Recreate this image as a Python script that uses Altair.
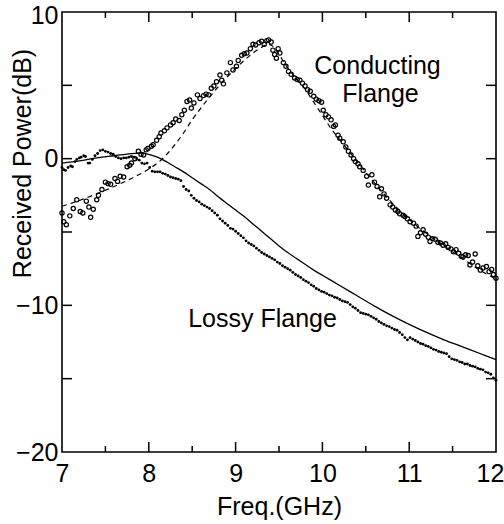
import altair as alt
import pandas as pd

FONT = "Liberation Sans"

# Conducting flange, measured (open circles)
CF = [7.00, 7.02, 7.05, 7.09, 7.13, 7.17, 7.21, 7.24, 7.28, 7.31, 7.33, 7.36, 7.40, 7.42, 7.46,
      7.50, 7.53, 7.56, 7.61, 7.64, 7.67, 7.71, 7.75, 7.78, 7.80, 7.84, 7.88, 7.91, 7.94, 7.97,
      7.99, 8.03, 8.05, 8.09, 8.12, 8.14, 8.18, 8.21, 8.25, 8.28, 8.31, 8.35, 8.38, 8.41, 8.44,
      8.47, 8.49, 8.52, 8.56, 8.59, 8.63, 8.66, 8.69, 8.72, 8.75, 8.78, 8.82, 8.84, 8.86, 8.90,
      8.94, 8.97, 9.01, 9.03, 9.07, 9.10, 9.13, 9.17, 9.20, 9.23, 9.27, 9.30, 9.33, 9.36, 9.38,
      9.41, 9.43, 9.45, 9.47, 9.49, 9.51, 9.55, 9.58, 9.61, 9.64, 9.68, 9.71, 9.74, 9.77, 9.80,
      9.83, 9.86, 9.90, 9.93, 9.96, 9.99, 10.01, 10.04, 10.07, 10.10, 10.13, 10.15, 10.18, 10.20,
      10.24, 10.27, 10.30, 10.33, 10.36, 10.38, 10.41, 10.43, 10.47, 10.51, 10.53, 10.57, 10.60,
      10.63, 10.66, 10.68, 10.71, 10.74, 10.78, 10.81, 10.84, 10.87, 10.89, 10.93, 10.95, 10.98,
      11.01, 11.05, 11.08, 11.10, 11.13, 11.16, 11.19, 11.22, 11.24, 11.27, 11.30, 11.33, 11.36,
      11.39, 11.42, 11.45, 11.48, 11.51, 11.54, 11.57, 11.60, 11.62, 11.65, 11.68, 11.70, 11.73,
      11.76, 11.79, 11.82, 11.85, 11.89, 11.92, 11.95, 11.97, 12.00]
CV = [-3.7, -4.3, -4.5, -3.9, -3.4, -2.8, -3.6, -3.7, -2.9, -3.3, -4.0, -3.45, -2.8, -2.5, -2.1,
      -1.6, -1.7, -1.75, -1.35, -1.55, -1.2, -1.25, -0.55, -0.45, -0.3, 0.0, 0.5, 0.3, 0.25, 0.6,
      0.7, 0.85, 0.95, 1.25, 1.5, 1.75, 1.9, 2.1, 2.3, 2.45, 2.7, 2.6, 3.0, 3.3, 3.9,
      4.0, 3.45, 3.8, 4.35, 4.1, 4.3, 4.4, 4.35, 4.8, 4.95, 5.25, 5.7, 5.35, 5.1, 5.85,
      6.55, 6.05, 6.3, 6.7, 7.05, 7.15, 7.2, 7.5, 7.8, 7.75, 7.9, 8.0, 7.8, 8.05, 8.1,
      7.95, 7.4, 7.1, 6.85, 7.5, 7.2, 6.55, 6.3, 5.95, 5.75, 5.5, 5.4, 5.35, 5.15, 4.95,
      4.7, 4.6, 4.25, 4.05, 3.95, 3.85, 3.3, 3.0, 2.85, 2.65, 2.2, 2.3, 1.6, 1.4,
      1.15, 0.8, 0.5, 0.25, 0.0, -0.2, -0.35, -0.55, -0.8, -1.2, -1.8, -1.1, -1.6,
      -1.9, -2.6, -2.05, -2.4, -2.7, -3.15, -3.3, -3.5, -3.6, -3.75, -3.85, -3.95, -4.1,
      -4.3, -4.4, -4.6, -5.3, -5.05, -4.85, -5.15, -5.35, -5.65, -5.45, -5.5, -5.7, -5.75,
      -5.9, -5.8, -6.05, -6.15, -6.35, -6.2, -6.45, -6.65, -6.7, -6.55, -6.6, -7.25, -7.05,
      -6.5, -7.3, -7.6, -7.45, -7.35, -7.7, -7.55, -7.9, -8.15]

# Conducting flange, computed (dashed line)
DF = [7.0, 7.2, 7.4, 7.6, 7.8, 7.9, 8.0, 8.1, 8.2, 8.3, 8.4, 8.5, 8.6, 8.7, 8.8, 8.9, 9.0, 9.1,
      9.2, 9.3, 9.38, 9.45, 9.5, 9.6, 9.7, 9.8, 9.9, 10.0, 10.1, 10.2, 10.3, 10.4, 10.5, 10.6,
      10.7, 10.8, 10.9, 11.0, 11.1, 11.2, 11.3, 11.4, 11.5, 11.6, 11.7, 11.8, 11.9, 12.0]
DV = [-3.25, -2.85, -2.4, -1.9, -1.35, -1.05, -0.7, -0.3, 0.25, 0.95, 1.75, 2.65, 3.45, 4.2, 4.9,
      5.55, 6.15, 6.7, 7.2, 7.6, 7.8, 7.55, 7.1, 6.2, 5.45, 4.75, 3.85, 2.95, 2.05, 1.3, 0.55,
      -0.2, -0.95, -1.65, -2.35, -3.0, -3.6, -4.15, -4.65, -5.1, -5.55, -5.95, -6.35, -6.75,
      -7.15, -7.55, -7.9, -8.2]

# Lossy flange, computed (solid line)
SF = [7.0, 7.2, 7.4, 7.6, 7.8, 7.9, 8.0, 8.1, 8.2, 8.3, 8.4, 8.5, 8.6, 8.7, 8.8, 8.9, 9.0, 9.1,
      9.2, 9.3, 9.4, 9.5, 9.6, 9.7, 9.8, 9.9, 10.0, 10.2, 10.4, 10.6, 10.8, 11.0, 11.2, 11.4,
      11.6, 11.8, 12.0]
SV = [-0.3, -0.15, 0.05, 0.2, 0.35, 0.38, 0.3, 0.1, -0.2, -0.55, -0.9, -1.3, -1.7, -2.1, -2.6,
      -3.05, -3.5, -3.95, -4.45, -4.95, -5.45, -5.95, -6.4, -6.8, -7.2, -7.6, -7.95, -8.65,
      -9.35, -10.05, -10.7, -11.3, -11.85, -12.35, -12.8, -13.25, -13.7]

# Lossy flange, measured (small dots)
LF = [7.00, 7.02, 7.04, 7.07, 7.10, 7.12, 7.15, 7.17, 7.20, 7.22, 7.25, 7.27, 7.30, 7.32, 7.35,
      7.38, 7.41, 7.44, 7.47, 7.50, 7.53, 7.56, 7.59, 7.62, 7.65, 7.68, 7.71, 7.74, 7.77, 7.80,
      7.83, 7.86, 7.89, 7.92, 7.95, 7.98, 8.01, 8.04, 8.07, 8.10, 8.13, 8.16, 8.19, 8.22, 8.25,
      8.28, 8.31, 8.34, 8.37, 8.40, 8.43, 8.46, 8.49, 8.52, 8.55, 8.58, 8.61, 8.64, 8.67, 8.70,
      8.73, 8.76, 8.79, 8.82, 8.85, 8.88, 8.91, 8.94, 8.97, 9.00, 9.03, 9.06, 9.09, 9.12, 9.15,
      9.18, 9.21, 9.24, 9.27, 9.30, 9.33, 9.36, 9.39, 9.42, 9.45, 9.48, 9.51, 9.54, 9.57, 9.60,
      9.63, 9.66, 9.69, 9.72, 9.75, 9.78, 9.81, 9.84, 9.87, 9.90, 9.93, 9.96, 9.99, 10.02, 10.05,
      10.08, 10.11, 10.14, 10.17, 10.20, 10.23, 10.26, 10.29, 10.32, 10.35, 10.38, 10.41, 10.44,
      10.47, 10.50, 10.53, 10.56, 10.59, 10.62, 10.65, 10.68, 10.71, 10.74, 10.77, 10.80, 10.83,
      10.86, 10.89, 10.92, 10.95, 10.98, 11.01, 11.04, 11.07, 11.10, 11.13, 11.16, 11.19, 11.22,
      11.25, 11.28, 11.31, 11.34, 11.37, 11.40, 11.43, 11.46, 11.49, 11.52, 11.55, 11.58, 11.61,
      11.64, 11.67, 11.70, 11.73, 11.76, 11.79, 11.82, 11.85, 11.88, 11.91, 11.94, 11.97, 12.00]
LV = [-0.6, -0.75, -0.8, -0.6, -0.5, -0.55, -0.2, -0.05, 0.05, 0.1, 0.2, 0.15, -0.3, -0.3, -0.05,
      0.2, 0.35, 0.55, 0.6, 0.5, 0.45, 0.35, 0.3, 0.15, 0.05, 0.0, 0.05, 0.05, 0.1, 0.15,
      0.1, 0.0, -0.1, -0.3, -0.35, -0.3, -0.6, -0.85, -0.9, -0.9, -0.9, -1.0, -1.05, -1.15, -1.25,
      -1.3, -1.35, -1.4, -1.5, -1.9, -2.1, -2.2, -2.5, -2.7, -2.85, -2.95, -3.1, -3.2, -3.3, -3.4,
      -3.55, -3.7, -3.85, -4.1, -4.25, -4.4, -4.55, -4.75, -4.8, -4.95, -5.1, -5.25, -5.4, -5.6, -5.75,
      -5.85, -5.95, -6.1, -6.25, -6.4, -6.5, -6.6, -6.7, -6.8, -6.9, -7.05, -7.15, -7.3, -7.4, -7.5,
      -7.6, -7.75, -7.9, -8.0, -8.1, -8.25, -8.35, -8.45, -8.6, -8.7, -8.85, -8.95, -9.05, -9.1, -9.2,
      -9.3, -9.35, -9.45, -9.5, -9.6, -9.7, -9.75, -9.8, -9.95, -10.1, -10.2, -10.35, -10.5,
      -10.55, -10.6, -10.65, -10.75, -10.85, -10.95, -11.1, -11.2, -11.3, -11.4, -11.45, -11.55, -11.65,
      -11.7, -11.85, -12.0, -12.2, -12.35, -12.2, -12.3, -12.4, -12.5, -12.6, -12.65, -12.75, -12.8,
      -12.9, -13.0, -13.05, -13.15, -13.2, -13.25, -13.3, -13.5, -13.65, -13.7, -13.75, -13.85, -13.9,
      -14.0, -14.0, -14.1, -14.15, -14.2, -14.3, -14.35, -14.4, -14.55, -14.6, -14.7, -14.95, -15.1]

X_LABELS = [7, 8, 9, 10, 11, 12]
Y_LABELS = [-20, -10, 0, 10]
X_MAJOR = [8, 9, 10, 11]
X_MINOR = [7.5, 8.5, 9.5, 10.5, 11.5]
Y_TICKS = [-15, -10, -5, 0, 5]

X_TITLE = "Freq.(GHz)"
Y_TITLE = "Received Power(dB)"

XS = alt.Scale(domain=[7, 12], nice=False, zero=False)
YS = alt.Scale(domain=[-20, 10], nice=False, zero=False)

x_axis = alt.Axis(values=X_LABELS, format="d", labelFontSize=25, labelFont=FONT, labelColor="black",
                  labelPadding=9, labelFlush=False, ticks=False, domain=False, grid=False,
                  labelOffset={"expr": "datum.value == 12 ? -6 : 0"},
                  titleFontSize=25, titleFont=FONT, titleFontWeight="normal", titleColor="black",
                  titleBaseline="alphabetic", titleY=62)
y_axis = alt.Axis(values=Y_LABELS, format="d", labelFontSize=25, labelFont=FONT, labelColor="black",
                  labelPadding=4, labelFlush=False, ticks=False, domain=False, grid=False,
                  labelOffset={"expr": "datum.value == 10 ? 3 : 0"},
                  titleFontSize=25, titleFont=FONT, titleFontWeight="normal", titleColor="black",
                  titleAngle=270, titleBaseline="alphabetic", titleAlign="center",
                  titleX=-32, titleY=151)


def X(field=None, datum=None):
    if datum is not None:
        return alt.X(datum=datum, scale=XS, axis=x_axis, title=X_TITLE)
    return alt.X(field, type="quantitative", scale=XS, axis=x_axis, title=X_TITLE)


def Y(field=None, datum=None):
    if datum is not None:
        return alt.Y(datum=datum, scale=YS, axis=y_axis, title=Y_TITLE)
    return alt.Y(field, type="quantitative", scale=YS, axis=y_axis, title=Y_TITLE)


cond_meas = pd.DataFrame({"f": CF, "v": CV})
cond_calc = pd.DataFrame({"f": DF, "v": DV})
lossy_calc = pd.DataFrame({"f": SF, "v": SV})
lossy_meas = pd.DataFrame({"f": LF, "v": LV})

circles = alt.Chart(cond_meas).mark_point(shape="circle", filled=False, size=18, strokeWidth=1.2,
                                         color="black", opacity=1).encode(x=X("f"), y=Y("v"))
dots = alt.Chart(lossy_meas).mark_point(shape="circle", filled=True, size=8, color="black",
                                       opacity=1).encode(x=X("f"), y=Y("v"))
dashed = alt.Chart(cond_calc).mark_line(color="black", strokeWidth=1.2, strokeDash=[5, 4],
                                       interpolate="monotone").encode(x=X("f"), y=Y("v"))
solid = alt.Chart(lossy_calc).mark_line(color="black", strokeWidth=1.3,
                                       interpolate="monotone").encode(x=X("f"), y=Y("v"))

ytick_df = pd.DataFrame({"v": Y_TICKS})
xmaj_df = pd.DataFrame({"f": X_MAJOR})
xmin_df = pd.DataFrame({"f": X_MINOR})


def yticks(edge, off):
    return alt.Chart(ytick_df).mark_rule(color="black", strokeWidth=1.5, x2Offset=off).encode(
        x=X(datum=edge), x2=alt.X2(datum=edge), y=Y("v"))


def xticks(df, edge, off):
    return alt.Chart(df).mark_rule(color="black", strokeWidth=1.5, y2Offset=off).encode(
        y=Y(datum=edge), y2=alt.Y2(datum=edge), x=X("f"))


def label(txt, fx, vy):
    return alt.Chart(pd.DataFrame({"t": [txt]})).mark_text(
        font=FONT, fontSize=25, color="black", align="center", baseline="alphabetic").encode(
        x=X(datum=fx), y=Y(datum=vy), text="t:N")


chart = alt.layer(
    circles, dots, dashed, solid,
    yticks(7, 10), yticks(12, -10),
    xticks(xmaj_df, 10, 10), xticks(xmin_df, 10, 6),
    xticks(xmaj_df, -20, -10), xticks(xmin_df, -20, -6),
    label("Conducting", 10.635, 5.77), label("Flange", 10.67, 3.86),
    label("Lossy Flange", 9.31, -11.47),
).properties(
    width=434, height=440,
    autosize="none",
    padding={"left": 62, "top": 12, "right": 8, "bottom": 72},
    background="white",
).configure_view(stroke="black", strokeWidth=1.6)

chart.save("out.html", embed_options={"renderer": "svg", "actions": False})
